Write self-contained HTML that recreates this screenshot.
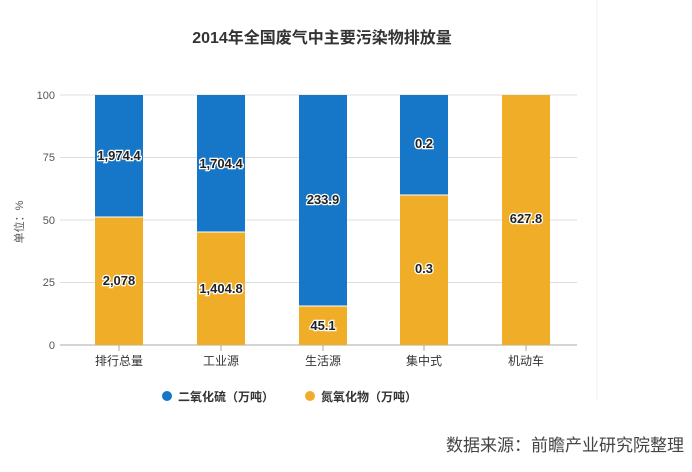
<!DOCTYPE html>
<html><head><meta charset="utf-8"><style>
body{margin:0;background:#fff;}
svg text{font-family:"Liberation Sans","Noto Sans CJK SC",sans-serif;}
</style></head><body>
<svg width="692" height="467" viewBox="0 0 692 467" xmlns="http://www.w3.org/2000/svg">
<rect width="692" height="467" fill="#fff"/>
<line x1="597" y1="0" x2="597" y2="400" stroke="#eee"/>
<text x="322" y="43" text-anchor="middle" font-size="16" font-weight="bold" fill="#333">2014年全国废气中主要污染物排放量</text>
<g stroke="#ddd" stroke-width="1">
<line x1="60" y1="95" x2="577" y2="95"/><line x1="60" y1="157.5" x2="577" y2="157.5"/>
<line x1="60" y1="220" x2="577" y2="220"/><line x1="60" y1="282.5" x2="577" y2="282.5"/>
</g>
<line x1="60" y1="345" x2="577" y2="345" stroke="#aaa"/>
<g font-size="11" fill="#555" text-anchor="end">
<text x="55" y="99">100</text><text x="55" y="161">75</text><text x="55" y="224">50</text><text x="55" y="286">25</text><text x="55" y="349">0</text>
</g>
<text transform="translate(23,222) rotate(-90)" font-size="11" fill="#555" text-anchor="middle">单位：%</text>
<g>
<rect x="95" y="95" width="48" height="122" fill="#1677c8"/><rect x="95" y="217" width="48" height="128" fill="#f0ad28"/>
<rect x="197" y="95" width="48" height="137" fill="#1677c8"/><rect x="197" y="232" width="48" height="113" fill="#f0ad28"/>
<rect x="299" y="95" width="48" height="211" fill="#1677c8"/><rect x="299" y="306" width="48" height="39" fill="#f0ad28"/>
<rect x="400" y="95" width="48" height="100" fill="#1677c8"/><rect x="400" y="195" width="48" height="150" fill="#f0ad28"/>
<rect x="502" y="95" width="48" height="250" fill="#f0ad28"/>
</g>
<g stroke="#fff" stroke-width="1"><line x1="95" y1="217" x2="143" y2="217"/><line x1="197" y1="232" x2="245" y2="232"/><line x1="299" y1="306" x2="347" y2="306"/><line x1="400" y1="195" x2="448" y2="195"/></g>
<g font-size="13" font-weight="bold" fill="#222" text-anchor="middle" stroke="#fff" stroke-width="2.5" paint-order="stroke">
<text x="119" y="160">1,974.4</text><text x="119" y="285">2,078</text>
<text x="221" y="168">1,704.4</text><text x="221" y="293">1,404.8</text>
<text x="323" y="204">233.9</text><text x="323" y="330">45.1</text>
<text x="424" y="148">0.2</text><text x="424" y="273">0.3</text>
<text x="526" y="223">627.8</text>
</g>
<g stroke="#aaa"><line x1="119" y1="345" x2="119" y2="351"/><line x1="221" y1="345" x2="221" y2="351"/><line x1="323" y1="345" x2="323" y2="351"/><line x1="424" y1="345" x2="424" y2="351"/><line x1="526" y1="345" x2="526" y2="351"/></g>
<g font-size="12" fill="#333" text-anchor="middle">
<text x="119" y="365">排行总量</text><text x="221" y="365">工业源</text><text x="323" y="365">生活源</text><text x="424" y="365">集中式</text><text x="526" y="365">机动车</text>
</g>
<circle cx="167" cy="396" r="5" fill="#1677c8"/>
<text x="178" y="401" font-size="12" font-weight="bold" fill="#333">二氧化硫（万吨）</text>
<circle cx="310" cy="396" r="5" fill="#f0ad28"/>
<text x="321" y="401" font-size="12" font-weight="bold" fill="#333">氮氧化物（万吨）</text>
<text x="684" y="451" font-size="17" fill="#444" text-anchor="end">数据来源：前瞻产业研究院整理</text>
</svg>
</body></html>
